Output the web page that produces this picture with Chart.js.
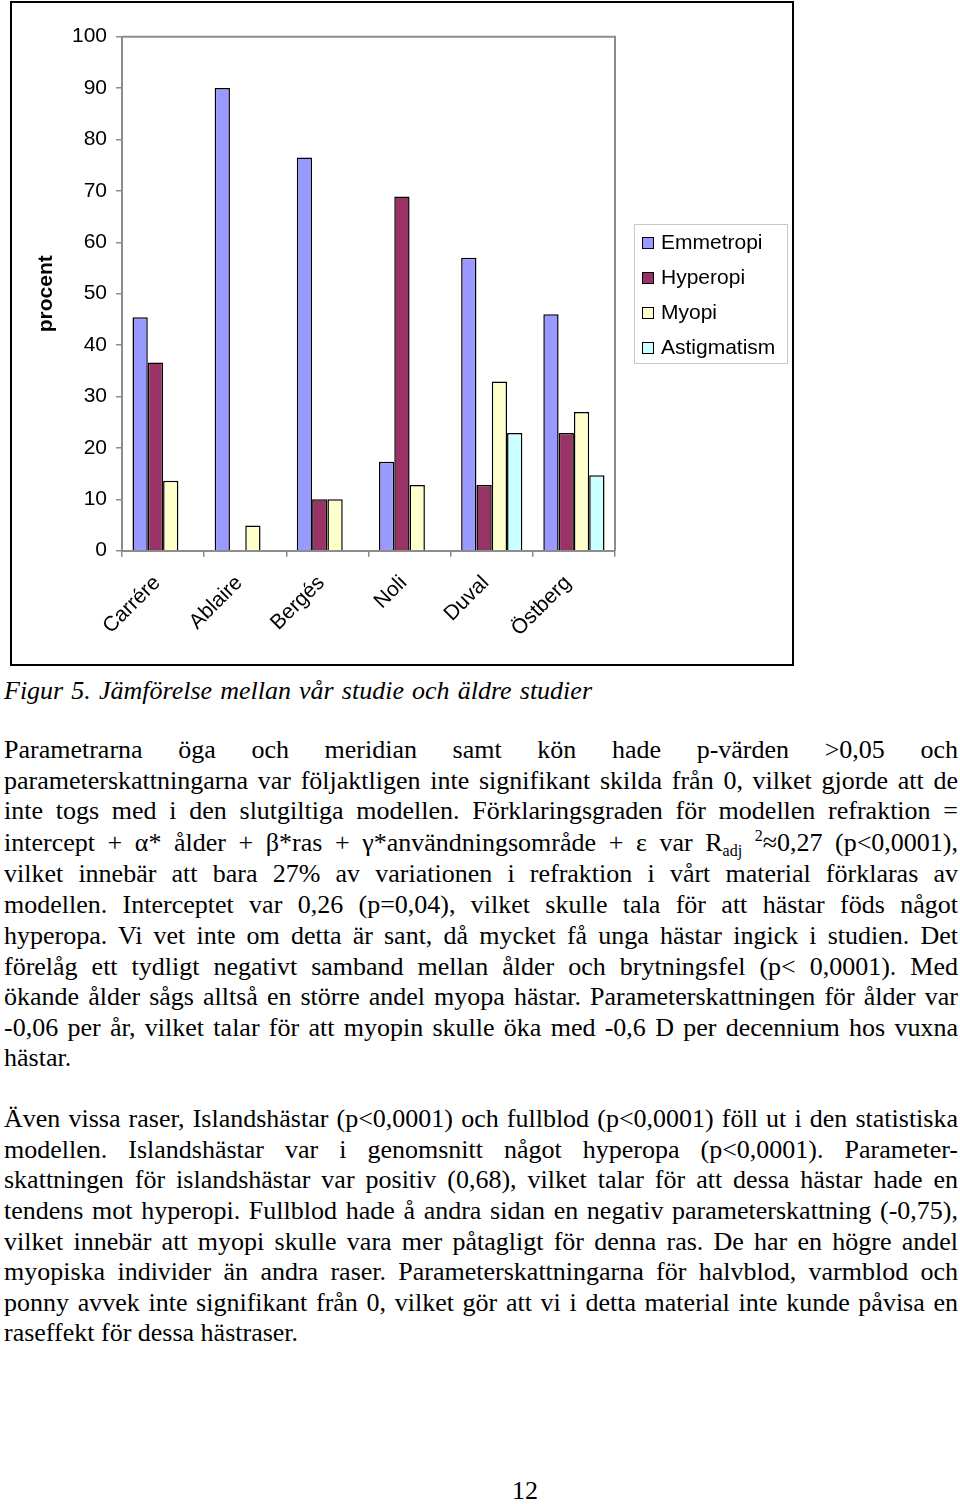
<!DOCTYPE html>
<html>
<head>
<meta charset="utf-8">
<script src="https://cdn.jsdelivr.net/npm/chart.js@4/dist/chart.umd.min.js"></script>
<style>
  html, body { margin: 0; padding: 0; background: #fff; }
  body { width: 960px; height: 1504px; position: relative; overflow: hidden; }
  #chartBox { position: absolute; left: 10px; top: 1px; width: 780px; height: 661px; border: 2px solid #000; }
  #chartBox canvas { position: absolute; left: 0; top: 0; }
  #legend { position: absolute; left: 634px; top: 224px; width: 152px; height: 138px; border: 1px solid #c8c8c8; font-family: "Liberation Sans", Arial, sans-serif; font-size: 21px; color: #000; }
  .li { position: absolute; left: 7px; height: 24px; line-height: 24px; white-space: nowrap; }
  .sw { display: inline-block; width: 10px; height: 10px; border: 1px solid #000; margin-right: 7px; vertical-align: 0px; }
  .txt { position: absolute; left: 4px; font-family: "Liberation Serif", "Times New Roman", serif; font-size: 26px; line-height: 30px; color: #000; white-space: nowrap; }
  .txt span.in { display: inline-block; white-space: nowrap; transform-origin: 0 0; }
  sub { font-size: 16px; vertical-align: -5px; line-height: 0; }
  sup { font-size: 16px; vertical-align: 10px; line-height: 0; }
</style>
</head>
<body>
<div id="chartBox"><canvas id="c" width="780" height="661"></canvas></div>
<div id="legend"></div>
<div id="text"></div>
<script>
const categories = ['Carrére', 'Ablaire', 'Bergés', 'Noli', 'Duval', 'Östberg'];
const seriesNames = ['Emmetropi', 'Hyperopi', 'Myopi', 'Astigmatism'];
const emmetropi   = [45.4, 90.0, 76.5, 17.3, 57.0, 46.0];
const hyperopi    = [36.6, null, 10.0, 68.9, 12.8, 22.9];
const myopi       = [13.6, 4.9, 10.0, 12.8, 32.9, 27.0];
const astigmatism = [null, null, null, null, 22.9, 14.7];
const seriesColors = ['#9999FF', '#993366', '#FFFFCC', '#CCFFFF'];
const yTicks = [0, 10, 20, 30, 40, 50, 60, 70, 80, 90, 100];
const yTitle = 'procent';

const seriesData = [emmetropi, hyperopi, myopi, astigmatism];

const plotFrame = {
  id: 'plotFrame',
  afterDatasetsDraw(chart) {
    const a = chart.chartArea, ctx = chart.ctx;
    ctx.save();
    ctx.strokeStyle = '#8c8c8c';
    ctx.lineWidth = 2;
    ctx.beginPath();
    ctx.moveTo(a.left, a.top);
    ctx.lineTo(a.right, a.top);
    ctx.lineTo(a.right, a.bottom);
    ctx.stroke();
    ctx.restore();
  }
};

new Chart(document.getElementById('c'), {
  type: 'bar',
  data: {
    labels: categories,
    datasets: seriesNames.map((n, i) => ({
      label: n,
      data: seriesData[i],
      backgroundColor: seriesColors[i],
      borderColor: '#000',
      borderWidth: 1.5,
      categoryPercentage: 0.745,
      barPercentage: 1.0
    }))
  },
  options: {
    responsive: false,
    animation: false,
    layout: { padding: { left: 0, right: 177, top: 33.7, bottom: 0 } },
    plugins: { legend: { display: false }, tooltip: { enabled: false } },
    scales: {
      x: {
        afterFit(s) { s.height = 113.3; },
        grid: { offset: true, drawOnChartArea: false, drawTicks: true, tickLength: 6, color: '#8c8c8c', lineWidth: 1.5 },
        border: { color: '#8c8c8c', width: 2 },
        ticks: { minRotation: 45, maxRotation: 45, padding: 14, labelOffset: -6, color: '#000', font: { family: 'Liberation Sans', size: 21 } }
      },
      y: {
        min: 0, max: 100,
        afterFit(s) { s.width = 110; },
        afterBuildTicks(s) { s.ticks = yTicks.map(v => ({ value: v })); },
        grid: { drawOnChartArea: false, drawTicks: true, tickLength: 6, color: '#8c8c8c', lineWidth: 1.5 },
        border: { color: '#8c8c8c', width: 2 },
        ticks: { padding: 9, color: '#000', font: { family: 'Liberation Sans', size: 21 } },
        title: { display: true, text: yTitle, color: '#000', font: { family: 'Liberation Sans', size: 21, weight: 'bold' }, padding: { top: 22, bottom: 0 } }
      }
    }
  },
  plugins: [plotFrame]
});

// HTML legend
const legend = document.getElementById('legend');
const legendY = [5, 40, 75, 110];
seriesNames.forEach((n, i) => {
  const d = document.createElement('div');
  d.className = 'li';
  d.style.top = legendY[i] + 'px';
  d.innerHTML = '<span class="sw" style="background:' + seriesColors[i] + '"></span>' + n;
  legend.appendChild(d);
});

// Body text
const lines = [
  { t: '<i>Figur 5. Jämförelse mellan vår studie och äldre studier</i>', y: 676, w: 588, j: true },
  { t: 'Parametrarna öga och meridian samt kön hade p-värden &gt;0,05 och', y: 735, j: true },
  { t: 'parameterskattningarna var följaktligen inte signifikant skilda från 0, vilket gjorde att de', y: 766, j: true },
  { t: 'inte togs med i den slutgiltiga modellen. Förklaringsgraden för modellen refraktion =', y: 796, j: true },
  { t: 'intercept + α* ålder + β*ras + γ*användningsområde + ε var R<sub>adj</sub> <sup>2</sup>≈0,27 (p&lt;0,0001),', y: 828, j: true },
  { t: 'vilket innebär att bara 27% av variationen i refraktion i vårt material förklaras av', y: 859, j: true },
  { t: 'modellen. Interceptet var 0,26 (p=0,04), vilket skulle tala för att hästar föds något', y: 890, j: true },
  { t: 'hyperopa. Vi vet inte om detta är sant, då mycket få unga hästar ingick i studien. Det', y: 921, j: true },
  { t: 'förelåg ett tydligt negativt samband mellan ålder och brytningsfel (p&lt; 0,0001). Med', y: 952, j: true },
  { t: 'ökande ålder sågs alltså en större andel myopa hästar. Parameterskattningen för ålder var', y: 982, j: true },
  { t: '-0,06 per år, vilket talar för att myopin skulle öka med -0,6 D per decennium hos vuxna', y: 1013, j: true },
  { t: 'hästar.', y: 1043, j: false },
  { t: 'Även vissa raser, Islandshästar (p&lt;0,0001) och fullblod (p&lt;0,0001) föll ut i den statistiska', y: 1104, j: true },
  { t: 'modellen. Islandshästar var i genomsnitt något hyperopa (p&lt;0,0001). Parameter-', y: 1135, j: true },
  { t: 'skattningen för islandshästar var positiv (0,68), vilket talar för att dessa hästar hade en', y: 1165, j: true },
  { t: 'tendens mot hyperopi. Fullblod hade å andra sidan en negativ parameterskattning (-0,75),', y: 1196, j: true },
  { t: 'vilket innebär att myopi skulle vara mer påtagligt för denna ras. De har en högre andel', y: 1227, j: true },
  { t: 'myopiska individer än andra raser. Parameterskattningarna för halvblod, varmblod och', y: 1257, j: true },
  { t: 'ponny avvek inte signifikant från 0, vilket gör att vi i detta material inte kunde påvisa en', y: 1288, j: true },
  { t: 'raseffekt för dessa hästraser.', y: 1318, j: false }
];
const textBox = document.getElementById('text');
lines.forEach(L => {
  const d = document.createElement('div');
  d.className = 'txt';
  d.style.top = L.y + 'px';
  const s = document.createElement('span');
  s.className = 'in';
  s.innerHTML = L.t;
  d.appendChild(s);
  textBox.appendChild(d);
  const target = L.w || 954;
  const w = s.getBoundingClientRect().width;
  if (w > target) {
    s.style.transform = 'scaleX(' + (target / w) + ')';
  } else if (L.j) {
    const spaces = (s.textContent.match(/ /g) || []).length;
    if (spaces > 0) s.style.wordSpacing = ((target - w) / spaces) + 'px';
  }
});
const pn = document.createElement('div');
pn.className = 'txt';
pn.style.left = '512px';
pn.style.top = '1476px';
pn.textContent = '12';
textBox.appendChild(pn);
</script>
</body>
</html>
